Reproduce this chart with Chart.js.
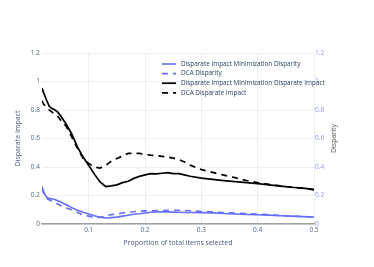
<!DOCTYPE html>
<html>
<head>
<meta charset="utf-8">
<script src="https://cdn.jsdelivr.net/npm/chart.js@4/dist/chart.umd.min.js"></script>
<style>
html,body{margin:0;padding:0;background:#fff;}
canvas{display:block;}
</style>
</head>
<body>
<canvas id="c" width="374" height="267"></canvas>
<script>
const proportion = [0.017,0.02,0.025,0.03,0.035,0.04,0.045,0.05,0.06,0.07,0.08,0.09,0.10,0.11,0.12,0.13,0.14,0.15,0.16,0.17,0.18,0.19,0.20,0.21,0.22,0.23,0.24,0.25,0.26,0.27,0.28,0.30,0.32,0.34,0.36,0.38,0.40,0.42,0.44,0.46,0.48,0.50];

const diMinDisparity = [0.264,0.225,0.19,0.178,0.175,0.172,0.163,0.155,0.135,0.115,0.097,0.083,0.07,0.058,0.048,0.042,0.045,0.048,0.055,0.062,0.068,0.072,0.077,0.082,0.084,0.085,0.085,0.083,0.082,0.081,0.081,0.08,0.078,0.074,0.07,0.067,0.065,0.062,0.058,0.055,0.052,0.049];
const dcaDisparity = [0.25,0.215,0.18,0.168,0.16,0.152,0.14,0.13,0.112,0.1,0.08,0.062,0.055,0.048,0.046,0.058,0.066,0.07,0.077,0.083,0.086,0.09,0.092,0.093,0.094,0.095,0.096,0.097,0.097,0.095,0.093,0.088,0.085,0.08,0.076,0.073,0.07,0.065,0.06,0.056,0.052,0.049];
const diMinDisparateImpact = [0.954,0.92,0.87,0.825,0.81,0.80,0.785,0.76,0.70,0.63,0.54,0.47,0.41,0.35,0.295,0.263,0.268,0.275,0.29,0.30,0.32,0.334,0.345,0.353,0.352,0.356,0.36,0.353,0.354,0.345,0.335,0.322,0.313,0.305,0.297,0.29,0.283,0.275,0.266,0.258,0.252,0.243];
const dcaDisparateImpact = [0.865,0.84,0.82,0.80,0.785,0.77,0.755,0.73,0.685,0.61,0.53,0.46,0.425,0.40,0.393,0.41,0.44,0.46,0.477,0.495,0.497,0.495,0.488,0.483,0.48,0.475,0.47,0.462,0.452,0.435,0.413,0.382,0.362,0.343,0.325,0.305,0.29,0.278,0.268,0.259,0.25,0.24];

const xTicks = [0.1,0.2,0.3,0.4,0.5];
const seriesNames = ["Disparate Impact Minimization Disparity","DCA Disparity","Disparate Impact Minimization Disparate Impact","DCA Disparate Impact"];
const rightTitle = 'Disparity';

const BLUE = '#636efa';
const FONT = '"Open Sans", "DejaVu Sans", sans-serif';

function pts(arr){ return proportion.map((x,i)=>({x:x,y:arr[i]})); }

const datasets = [
  {label:seriesNames[0], data:pts(diMinDisparity), borderColor:BLUE, borderWidth:1.6, yAxisID:'y2'},
  {label:seriesNames[1], data:pts(dcaDisparity), borderColor:BLUE, borderWidth:1.6, borderDash:[6,5], yAxisID:'y2'},
  {label:seriesNames[2], data:pts(diMinDisparateImpact), borderColor:'#000', borderWidth:1.7, yAxisID:'y'},
  {label:seriesNames[3], data:pts(dcaDisparateImpact), borderColor:'#000', borderWidth:1.7, borderDash:[6,5], yAxisID:'y'}
].map(d=>Object.assign({pointRadius:0, fill:false, tension:0}, d));

const legendPlugin = {
  id:'customLegend',
  afterDraw(chart){
    const ctx = chart.ctx;
    ctx.save();
    chart.data.datasets.forEach((ds,i)=>{
      const y = 64 + i*9.6;
      ctx.beginPath();
      ctx.strokeStyle = ds.borderColor;
      ctx.lineWidth = ds.borderWidth;
      ctx.setLineDash(ds.borderDash || []);
      ctx.moveTo(162, y); ctx.lineTo(176, y);
      ctx.stroke();
      ctx.setLineDash([]);
      ctx.fillStyle = '#2a3f5f';
      ctx.font = '6.4px ' + FONT;
      ctx.textBaseline = 'middle';
      ctx.textAlign = 'left';
      ctx.fillText(ds.label, 181, y);
    });
    // right axis title, reading bottom-to-top
    const a = chart.chartArea;
    ctx.translate(334, (a.top + a.bottom) / 2);
    ctx.rotate(-Math.PI / 2);
    ctx.fillStyle = '#555';
    ctx.font = '7px ' + FONT;
    ctx.textAlign = 'center';
    ctx.textBaseline = 'middle';
    ctx.fillText(rightTitle, 0, 0);
    ctx.restore();
  }
};

const fmt = v => v === 0 ? '0' : String(+v.toFixed(1));

new Chart(document.getElementById('c'), {
  type:'line',
  data:{datasets:datasets},
  options:{
    responsive:false,
    animation:false,
    layout:{padding:{top:53, left:0, right:0, bottom:0}},
    plugins:{legend:{display:false}, tooltip:{enabled:false}},
    scales:{
      x:{
        type:'linear', min:0.017, max:0.5,
        afterBuildTicks(s){ s.ticks = xTicks.map(v=>({value:v})); },
        afterFit(s){ s.height = 43; },
        ticks:{font:{family:FONT, size:6.5}, color:'#506784', padding:2, maxRotation:0, callback:fmt},
        grid:{color:'#ebf0f8', drawTicks:false, lineWidth:1},
        border:{display:true, color:'#a0a0a0', width:1.5},
        title:{display:true, text:'Proportion of total items selected', font:{family:FONT, size:7}, color:'#4a5a7a', padding:{top:0,bottom:19.8}}
      },
      y:{
        type:'linear', position:'left', min:0, max:1.2,
        afterFit(s){ s.width = 42; },
        ticks:{stepSize:0.2, font:{family:FONT, size:6.5}, color:'#506784', padding:2, callback:fmt},
        grid:{color:'#ebf0f8', drawTicks:false, lineWidth:1},
        border:{display:false},
        title:{display:true, text:'Disparate Impact', font:{family:FONT, size:7}, color:'#4a5a7a', padding:{top:13.8,bottom:0}}
      },
      y2:{
        type:'linear', position:'right', min:0, max:1.2,
        afterFit(s){ s.width = 60; },
        ticks:{stepSize:0.2, font:{family:FONT, size:6.5}, color:'#8c94f7', padding:1, callback:fmt},
        grid:{display:false, drawTicks:false},
        border:{display:false},
        title:{display:false}
      }
    }
  },
  plugins:[legendPlugin]
});
</script>
</body>
</html>
